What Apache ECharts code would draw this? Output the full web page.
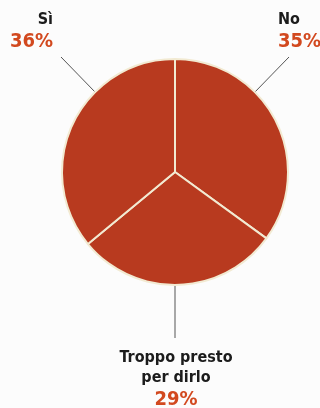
<!DOCTYPE html>
<html><head><meta charset="utf-8">
<script src="https://cdn.jsdelivr.net/npm/echarts@6/dist/echarts.min.js"></script>
<style>html,body{margin:0;padding:0;background:#fcfcfc}#c{width:320px;height:408px}</style>
</head><body><div id="c"></div>
<script>
var categories = ['No', 'Troppo presto\nper dirlo', 'Sì'];
var values = [35, 29, 36];
var percentLabels = ['35%', '29%', '36%'];

var chart = echarts.init(document.getElementById('c'));
var cx = 175, cy = 172, R = 113;
var labelSpec = [
  {x: 278, y: 10, align: 'left', ang: 45, end: [289, 57]},
  {x: 176, y: 348, align: 'center', ang: 180, end: [175, 338]},
  {x: 53, y: 10, align: 'right', ang: 315, end: [61, 57]}
];
var ff = 'Liberation Sans Narrow, DejaVu Sans Condensed, sans-serif';
chart.setOption({
  backgroundColor: '#fcfcfc',
  animation: false,
  series: [{
    type: 'pie',
    center: [cx, cy],
    radius: R,
    startAngle: 90,
    clockwise: true,
    data: categories.map(function (c, i) { return {name: c, value: values[i]}; }),
    itemStyle: {color: '#b83a1f', borderColor: '#f2ead2', borderWidth: 2},
    label: {
      show: true,
      overflow: 'none',
      width: 200,
      edgeDistance: 0,
      bleedMargin: 0,
      formatter: function (p) {
        return p.name.split('\n').map(function (s) { return '{n|' + s + '}'; }).join('\n') + '\n{p|' + percentLabels[p.dataIndex] + '}';
      },
      rich: {
        n: {fontFamily: ff, fontSize: 16, fontWeight: 'bold', color: '#1c1c1c', lineHeight: 20},
        p: {fontFamily: ff, fontSize: 20, fontWeight: 'bold', color: '#d2491f', lineHeight: 23}
      }
    },
    labelLine: {show: true, lineStyle: {color: '#555', width: 1}},
    labelLayout: function (params) {
      var s = labelSpec[params.dataIndex];
      var a = s.ang * Math.PI / 180;
      var sx = cx + Math.sin(a) * (R - 1), sy = cy - Math.cos(a) * (R - 1);
      return {
        x: s.x, y: s.y, align: s.align, verticalAlign: 'top',
        labelLinePoints: [[sx, sy], [(sx + s.end[0]) / 2, (sy + s.end[1]) / 2], s.end]
      };
    }
  }]
});
</script></body></html>
